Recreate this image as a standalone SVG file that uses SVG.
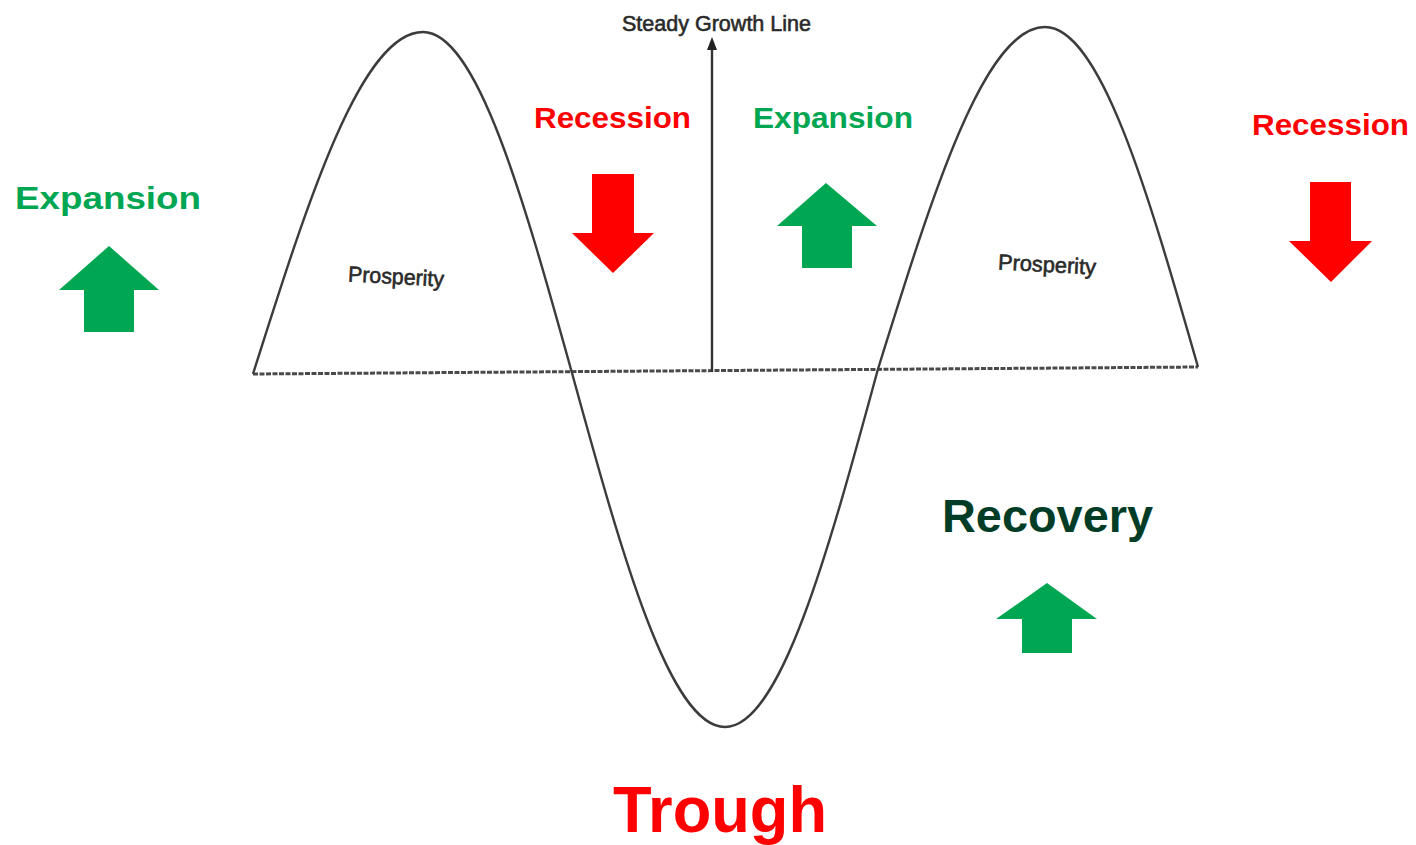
<svg xmlns="http://www.w3.org/2000/svg" width="1416" height="845" viewBox="0 0 1416 845">
<style>
.lbl{font-family:"Liberation Sans",Arial,sans-serif;font-weight:bold}
.g{fill:#00a651}
.r{fill:#ff0000}
.small{font-family:"Liberation Sans",Arial,sans-serif;fill:#2a2a2a;stroke:#2a2a2a;stroke-width:0.6;font-size:22px}
.curve{fill:none;stroke:#3c3c3c;stroke-width:2.4}
.base{fill:none;stroke:#4a4a4a;stroke-width:3;stroke-dasharray:5 1.5}
</style>
<rect width="1416" height="845" fill="#ffffff"/>
<g id="connectors">
<path id="baseline" class="base" d="M253,374 L1198,367"/>
<path id="wave" class="curve" d="M253,374 C308.4,198.8 361.5,32 423,32 C476.9,32 523.4,198.3 572,373 C621.9,554.4 669.6,727 725,727 C780.4,727 828.1,552.4 878,369 C932.5,193.8 984.5,27 1045,27 C1100.4,27 1148.1,192.8 1198,367"/>
<line id="steady" x1="712" y1="372" x2="712" y2="48" stroke="#333" stroke-width="2.4"/>
<polygon id="steady-head" points="712,37 717,50 707,50" fill="#222"/>
</g>
<g id="steady-label"><text class="small" x="622" y="31" textLength="189" lengthAdjust="spacingAndGlyphs">Steady Growth Line</text></g>
<g id="prosperity-left"><text class="small" x="348" y="284" font-size="21" textLength="96" lengthAdjust="spacingAndGlyphs" transform="rotate(3 396 278)">Prosperity</text></g>
<g id="prosperity-right"><text class="small" x="998" y="272" font-size="21" textLength="98" lengthAdjust="spacingAndGlyphs" transform="rotate(3 1047 266)">Prosperity</text></g>
<g id="expansion-left">
<text class="lbl g" x="15" y="209" font-size="32" textLength="186" lengthAdjust="spacingAndGlyphs">Expansion</text>
<polygon class="g" points="109,246 159,290 134,290 134,332 84,332 84,290 59,290"/>
</g>
<g id="recession-mid">
<text class="lbl r" x="534" y="128" font-size="29" textLength="157" lengthAdjust="spacingAndGlyphs">Recession</text>
<polygon class="r" points="592,174 634,174 634,233 654,233 613,273 572,233 592,233"/>
</g>
<g id="expansion-mid">
<text class="lbl g" x="753" y="128" font-size="29" textLength="160" lengthAdjust="spacingAndGlyphs">Expansion</text>
<polygon class="g" points="826,183 877,226 852,226 852,268 802,268 802,226 777,226"/>
</g>
<g id="recession-right">
<text class="lbl r" x="1252" y="135" font-size="30" textLength="157" lengthAdjust="spacingAndGlyphs">Recession</text>
<polygon class="r" points="1310,182 1351,182 1351,241 1372,241 1331,282 1289,241 1310,241"/>
</g>
<g id="recovery">
<text class="lbl" fill="#013d26" x="942" y="532" font-size="47" textLength="211" lengthAdjust="spacingAndGlyphs">Recovery</text>
<polygon class="g" points="1047,583 1097,619 1072,619 1072,653 1022,653 1022,619 996,619"/>
</g>
<g id="trough">
<text class="lbl r" x="613" y="832" font-size="65" textLength="214" lengthAdjust="spacingAndGlyphs">Trough</text>
</g>
</svg>
